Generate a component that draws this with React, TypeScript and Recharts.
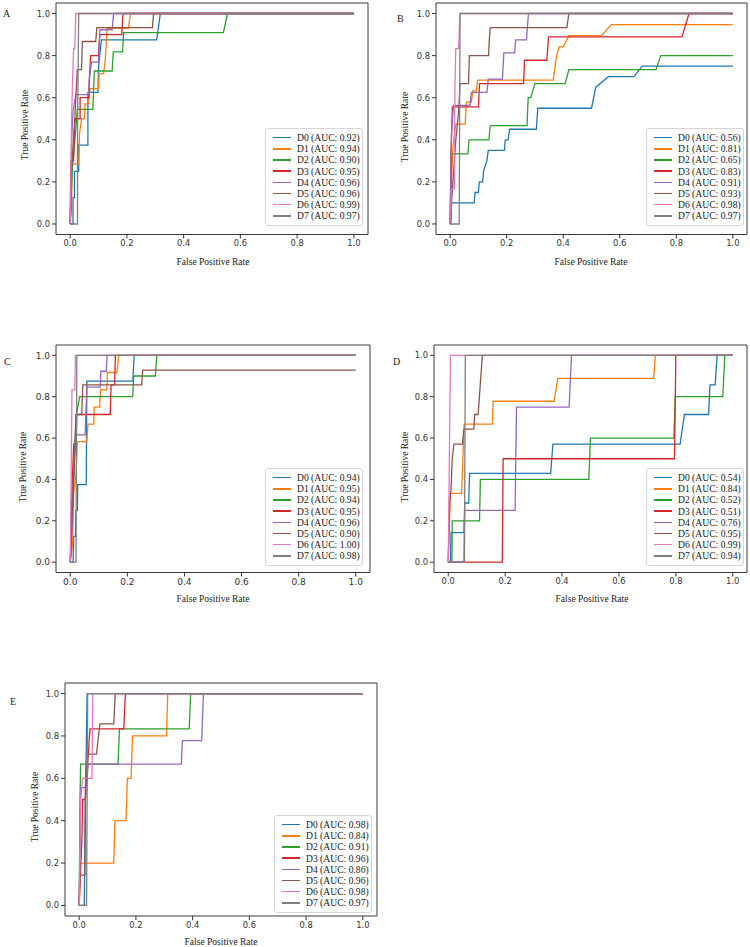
import React from 'react';
import { LineChart, Line, XAxis, YAxis, ReferenceArea } from 'recharts';

const NAMES = ['D0', 'D1', 'D2', 'D3', 'D4', 'D5', 'D6', 'D7'];
const COLORS = ['#1f77b4', '#ff7f0e', '#2ca02c', '#d62728', '#9467bd', '#8c564b', '#e377c2', '#7f7f7f'];
const TICKS = [0, 0.2, 0.4, 0.6, 0.8, 1.0];

// [fpr, tpr] points
const A_D0 = [[0,0],[0.01,0],[0.01,0.125],[0.015,0.125],[0.015,0.25],[0.03,0.25],[0.03,0.375],[0.0625,0.375],[0.0625,0.625],[0.098,0.625],[0.1,0.75],[0.11,0.875],[0.305,0.875],[0.318,1],[1,1]];
const A_D1 = [[0,0],[0.005,0.071],[0.006,0.286],[0.03,0.286],[0.033,0.429],[0.04,0.5],[0.05,0.5],[0.053,0.571],[0.065,0.571],[0.07,0.643],[0.1,0.643],[0.102,0.714],[0.118,0.714],[0.124,0.786],[0.13,0.929],[0.205,0.929],[0.213,1],[1,1]];
const A_D2 = [[0,0],[0.008,0.273],[0.02,0.455],[0.025,0.545],[0.08,0.545],[0.085,0.727],[0.148,0.727],[0.152,0.818],[0.185,0.818],[0.188,0.909],[0.54,0.909],[0.555,1],[1,1]];
const A_D3 = [[0,0],[0.002,0.3],[0.012,0.3],[0.015,0.45],[0.018,0.5],[0.035,0.5],[0.035,0.6],[0.065,0.6],[0.068,0.7],[0.072,0.8],[0.1,0.8],[0.104,0.9],[0.182,0.9],[0.186,1],[1,1]];
const A_D4 = [[0,0],[0.005,0.385],[0.01,0.538],[0.02,0.615],[0.065,0.615],[0.068,0.692],[0.075,0.769],[0.1,0.769],[0.105,0.923],[0.148,0.923],[0.153,1],[1,1]];
const A_D5 = [[0,0],[0.005,0.267],[0.015,0.467],[0.02,0.6],[0.025,0.733],[0.04,0.733],[0.043,0.867],[0.09,0.867],[0.094,0.933],[0.29,0.933],[0.294,1],[1,1]];
const A_D6 = [[0,0],[0.002,0.167],[0.005,0.5],[0.008,0.667],[0.012,0.833],[0.016,0.833],[0.02,1],[1,1]];
const A_D7 = [[0,0],[0.026,0],[0.026,0.462],[0.03,1],[1,1]];

const B_D0 = [[0,0],[0.003,0],[0.005,0.1],[0.085,0.1],[0.088,0.15],[0.1,0.15],[0.103,0.2],[0.115,0.2],[0.118,0.25],[0.13,0.3],[0.135,0.35],[0.192,0.35],[0.195,0.4],[0.205,0.4],[0.21,0.45],[0.305,0.45],[0.31,0.55],[0.5,0.55],[0.515,0.65],[0.56,0.7],[0.65,0.7],[0.68,0.75],[1,0.75]];
const B_D1 = [[0,0],[0.005,0.211],[0.01,0.368],[0.02,0.474],[0.053,0.474],[0.058,0.579],[0.075,0.579],[0.08,0.632],[0.093,0.632],[0.097,0.684],[0.365,0.684],[0.375,0.789],[0.385,0.842],[0.4,0.842],[0.42,0.895],[0.535,0.895],[0.57,0.947],[1,0.947]];
const B_D2 = [[0,0],[0.005,0.333],[0.063,0.333],[0.067,0.4],[0.137,0.4],[0.142,0.467],[0.272,0.467],[0.276,0.6],[0.285,0.6],[0.3,0.667],[0.407,0.667],[0.42,0.733],[0.728,0.733],[0.745,0.8],[1,0.8]];
const B_D3 = [[0,0],[0.003,0.333],[0.008,0.556],[0.1,0.556],[0.104,0.667],[0.26,0.667],[0.263,0.778],[0.342,0.778],[0.348,0.889],[0.82,0.889],[0.845,1],[1,1]];
const B_D4 = [[0,0],[0.002,0.188],[0.005,0.438],[0.012,0.563],[0.07,0.563],[0.075,0.625],[0.13,0.625],[0.135,0.688],[0.185,0.688],[0.19,0.813],[0.228,0.813],[0.232,0.875],[0.27,0.875],[0.277,1],[1,1]];
const B_D5 = [[0,0],[0.01,0.2],[0.02,0.4],[0.03,0.533],[0.035,0.667],[0.065,0.667],[0.068,0.8],[0.136,0.8],[0.138,0.867],[0.142,0.933],[0.413,0.933],[0.42,1],[1,1]];
const B_D6 = [[0,0],[0.005,0.167],[0.015,0.167],[0.017,0.667],[0.02,0.833],[0.03,0.833],[0.035,1],[1,1]];
const B_D7 = [[0,0],[0.032,0],[0.035,1],[1,1]];

const C_D0 = [[0,0],[0.01,0],[0.012,0.125],[0.018,0.125],[0.02,0.25],[0.025,0.25],[0.026,0.375],[0.056,0.375],[0.058,0.875],[0.219,0.875],[0.224,1],[1,1]];
const C_D1 = [[0,0],[0.008,0.083],[0.012,0.333],[0.02,0.417],[0.025,0.583],[0.058,0.583],[0.062,0.667],[0.082,0.667],[0.084,0.75],[0.103,0.75],[0.106,0.833],[0.128,0.833],[0.13,0.917],[0.163,0.917],[0.17,1],[1,1]];
const C_D2 = [[0,0],[0.012,0.4],[0.02,0.7],[0.033,0.8],[0.219,0.8],[0.222,0.9],[0.298,0.9],[0.303,1],[1,1]];
const C_D3 = [[0,0],[0.005,0.286],[0.008,0.429],[0.012,0.571],[0.02,0.571],[0.023,0.714],[0.14,0.714],[0.143,0.857],[0.155,0.857],[0.158,1],[1,1]];
const C_D4 = [[0,0],[0.008,0.231],[0.012,0.462],[0.02,0.615],[0.052,0.615],[0.058,0.846],[0.105,0.846],[0.107,0.923],[0.126,0.923],[0.129,1],[1,1]];
const C_D5 = [[0,0],[0.015,0.5],[0.02,0.714],[0.04,0.714],[0.044,0.857],[0.25,0.857],[0.254,0.929],[1,0.929]];
const C_D6 = [[0,0],[0.006,0.833],[0.016,0.833],[0.018,1],[1,1]];
const C_D7 = [[0,0],[0.02,0],[0.023,1],[1,1]];

const D_D0 = [[0,0],[0.008,0],[0.01,0.143],[0.055,0.143],[0.058,0.286],[0.072,0.286],[0.075,0.429],[0.36,0.429],[0.368,0.571],[0.815,0.571],[0.83,0.714],[0.915,0.714],[0.92,0.857],[0.938,0.857],[0.945,1],[1,1]];
const D_D1 = [[0,0],[0.005,0.222],[0.008,0.333],[0.047,0.333],[0.05,0.444],[0.053,0.556],[0.056,0.667],[0.155,0.667],[0.158,0.778],[0.372,0.778],[0.385,0.889],[0.722,0.889],[0.728,1],[1,1]];
const D_D2 = [[0,0],[0.013,0],[0.014,0.2],[0.11,0.2],[0.113,0.4],[0.494,0.4],[0.5,0.6],[0.793,0.6],[0.798,0.8],[0.965,0.8],[0.972,1],[1,1]];
const D_D3 = [[0,0],[0.19,0],[0.193,0.5],[0.795,0.5],[0.8,1],[1,1]];
const D_D4 = [[0,0],[0.055,0],[0.058,0.25],[0.235,0.25],[0.24,0.75],[0.425,0.75],[0.433,1],[1,1]];
const D_D5 = [[0,0],[0.005,0.286],[0.01,0.357],[0.014,0.5],[0.02,0.571],[0.05,0.571],[0.055,0.643],[0.09,0.643],[0.093,0.714],[0.105,0.714],[0.12,1],[1,1]];
const D_D6 = [[0,0],[0.008,1],[1,1]];
const D_D7 = [[0,0],[0.057,0],[0.06,1],[1,1]];

const E_D0 = [[0,0],[0.018,0],[0.022,0.5],[0.028,1],[1,1]];
const E_D1 = [[0,0],[0.003,0.2],[0.122,0.2],[0.126,0.4],[0.165,0.4],[0.17,0.6],[0.183,0.6],[0.188,0.8],[0.308,0.8],[0.312,1],[1,1]];
const E_D2 = [[0,0],[0.003,0.5],[0.005,0.667],[0.137,0.667],[0.142,0.833],[0.388,0.833],[0.393,1],[1,1]];
const E_D3 = [[0,0],[0.01,0.333],[0.012,0.5],[0.022,0.5],[0.03,0.667],[0.038,0.833],[0.157,0.833],[0.163,1],[1,1]];
const E_D4 = [[0,0],[0.003,0.333],[0.005,0.556],[0.025,0.556],[0.032,0.667],[0.36,0.667],[0.364,0.778],[0.432,0.778],[0.438,1],[1,1]];
const E_D5 = [[0,0],[0.002,0.143],[0.02,0.143],[0.022,0.571],[0.03,0.714],[0.061,0.714],[0.073,0.857],[0.122,0.857],[0.127,1],[1,1]];
const E_D6 = [[0,0],[0.002,0.2],[0.005,0.5],[0.012,0.6],[0.045,0.6],[0.048,1],[1,1]];
const E_D7 = [[0,0],[0.026,0],[0.03,1],[1,1]];

const AUC_A = [0.92, 0.94, 0.90, 0.95, 0.96, 0.96, 0.99, 0.97];
const AUC_B = [0.56, 0.81, 0.65, 0.83, 0.91, 0.93, 0.98, 0.97];
const AUC_C = [0.94, 0.95, 0.94, 0.95, 0.96, 0.90, 1.00, 0.98];
const AUC_D = [0.54, 0.84, 0.52, 0.51, 0.76, 0.95, 0.99, 0.94];
const AUC_E = [0.98, 0.84, 0.91, 0.96, 0.86, 0.96, 0.98, 0.97];

const toRows = (pts: number[][]) => pts.map(([x, y]) => ({ x, y }));

// frame box, title spots and legend spot per panel (page px)
const PANELS = [
  { label: 'A', curves: [A_D0, A_D1, A_D2, A_D3, A_D4, A_D5, A_D6, A_D7], auc: AUC_A,
    frame: [56, 2.5, 368, 234], tickFs: 8.4, lab: [3, 14], xt: [213, 262], yt: [25, 125], leg: [265, 128] },
  { label: 'B', curves: [B_D0, B_D1, B_D2, B_D3, B_D4, B_D5, B_D6, B_D7], auc: AUC_B,
    frame: [436, 2.5, 747, 234], tickFs: 8.4, lab: [397, 19], xt: [591, 262], yt: [405, 127], leg: [646, 128] },
  { label: 'C', curves: [C_D0, C_D1, C_D2, C_D3, C_D4, C_D5, C_D6, C_D7], auc: AUC_C,
    frame: [56, 344.5, 370, 572], tickFs: 9, lab: [4, 362], xt: [213, 599], yt: [23, 467], leg: [265, 468] },
  { label: 'D', curves: [D_D0, D_D1, D_D2, D_D3, D_D4, D_D5, D_D6, D_D7], auc: AUC_D,
    frame: [434, 344.5, 747, 572], tickFs: 8.4, lab: [393, 362], xt: [592, 599], yt: [405, 467], leg: [646, 468] },
  { label: 'E', curves: [E_D0, E_D1, E_D2, E_D3, E_D4, E_D5, E_D6, E_D7], auc: AUC_E,
    frame: [65, 683, 377, 916], tickFs: 8.4, lab: [10, 702], xt: [221, 942], yt: [35, 807], leg: [274, 815] },
];

const SERIF = '"Liberation Serif", "Times New Roman", serif';
const YW = 40;
const XH = 24;

function Panel({ p }: { p: any }) {
  const [l, t, r, b] = p.frame;
  const fw = r - l;
  const fh = b - t;
  const tickStyle = { fontSize: p.tickFs, fill: '#333', fontFamily: '"DejaVu Sans", sans-serif' };
  return (
    <>
      <div style={{ position: 'absolute', left: l - YW, top: t - 2 }}>
        <LineChart width={fw + YW + 3} height={fh + XH + 2} margin={{ top: 2, right: 3, left: 0, bottom: 0 }}>
          <XAxis type="number" dataKey="x" domain={[-0.05, 1.05]} ticks={TICKS} allowDataOverflow
            tickFormatter={(v: number) => v.toFixed(1)} height={XH} tickSize={4} tickMargin={2}
            axisLine={false} tickLine={{ stroke: '#333' }} tick={tickStyle} />
          <YAxis type="number" dataKey="y" domain={[-0.05, 1.05]} ticks={TICKS} allowDataOverflow
            tickFormatter={(v: number) => v.toFixed(1)} width={YW} tickSize={4} tickMargin={2}
            axisLine={false} tickLine={{ stroke: '#333' }} tick={tickStyle} />
          <ReferenceArea x1={-0.05} x2={1.05} y1={-0.05} y2={1.05} fill="none" stroke="#3a3a3a" strokeWidth={1} ifOverflow="visible" />
          {p.curves.map((c: number[][], i: number) => (
            <Line key={i} data={toRows(c)} dataKey="y" name={NAMES[i]} type="linear" stroke={COLORS[i]}
              strokeWidth={1.3} dot={false} activeDot={false} isAnimationActive={false} />
          ))}
        </LineChart>
      </div>
      <div style={{ position: 'absolute', left: p.lab[0], top: p.lab[1] - 6, fontFamily: SERIF, fontSize: 10, color: '#222' }}>{p.label}</div>
      <div style={{ position: 'absolute', left: p.xt[0], top: p.xt[1], transform: 'translate(-50%,-50%)', whiteSpace: 'nowrap', fontFamily: SERIF, fontSize: 9.5, color: '#222' }}>False Positive Rate</div>
      <div style={{ position: 'absolute', left: p.yt[0], top: p.yt[1], transform: 'translate(-50%,-50%) rotate(-90deg)', whiteSpace: 'nowrap', fontFamily: SERIF, fontSize: 9.5, color: '#222' }}>True Positive Rate</div>
      <div style={{ position: 'absolute', left: p.leg[0], top: p.leg[1], width: 98, height: 98, boxSizing: 'border-box', background: 'rgba(255,255,255,0.85)', border: '1px solid #d6d6d6', borderRadius: 3, padding: '3px 0 0 7px' }}>
        {NAMES.map((n, i) => (
          <div key={n} style={{ display: 'flex', alignItems: 'center', height: 11.2 }}>
            <div style={{ width: 18, height: 1.5, background: COLORS[i], marginRight: 6, flexShrink: 0 }} />
            <span style={{ fontFamily: SERIF, fontSize: 9.6, color: '#222', whiteSpace: 'nowrap', lineHeight: '11px' }}>
              {`${n} (AUC: ${p.auc[i].toFixed(2)})`}
            </span>
          </div>
        ))}
      </div>
    </>
  );
}

export default function App() {
  return (
    <div style={{ position: 'absolute', left: 0, top: 0, width: 750, height: 947, background: '#fff' }}>
      {PANELS.map((p) => <Panel key={p.label} p={p} />)}
    </div>
  );
}
